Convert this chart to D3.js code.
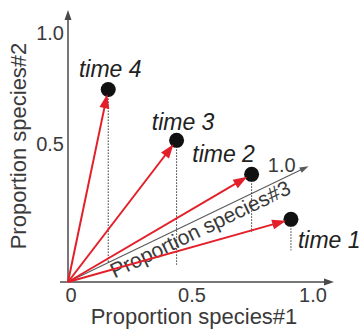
<!DOCTYPE html>
<html><head><meta charset="utf-8">
<script src="https://cdn.jsdelivr.net/npm/d3@7"></script>
<style>body{margin:0;background:#fff}svg{display:block}</style>
</head><body>
<svg id="c" width="362" height="331"></svg>
<script>
// ---- data ----
const times = ["time 1", "time 2", "time 3", "time 4"];
const species1 = [0.65, 0.33, 0.30, 0.00];
const species2 = [0.14, 0.26, 0.56, 0.78];
const species3 = [0.31, 0.49, 0.17, 0.19];
const xTicks = [0, 0.5, 1.0];
const yTicks = [0.5, 1.0];
const zTicks = [1.0];
const axisTitles = ["Proportion species#1", "Proportion species#2", "Proportion species#3"];

// ---- layout ----
const svg = d3.select("#c");
const FONT = "'Liberation Sans', Arial, sans-serif";
const O = [68, 282];
const x = d3.scaleLinear().domain([0, 1]).range([68, 310]);
const y = d3.scaleLinear().domain([0, 1]).range([255, 33]);
const z = d3.scaleLinear().domain([0, 1]).range([0, 235]);
const ang = Math.atan2(116, 241);
const cs = Math.cos(ang), sn = Math.sin(ang);
const h = v => y(0) - y(v);
const proj = (a, b, c) => [x(a) + z(c) * cs, O[1] - h(b) - z(c) * sn];
const floor = (a, c) => [x(a) + z(c) * cs, O[1] - z(c) * sn];

function arrowHead(g, tip, angle, len, half, fill) {
  const bx = tip[0] - len * Math.cos(angle), by = tip[1] - len * Math.sin(angle);
  const px = -Math.sin(angle) * half, py = Math.cos(angle) * half;
  g.append("path")
    .attr("d", `M${tip[0]},${tip[1]}L${bx + px},${by + py}L${bx - px},${by - py}Z`)
    .attr("fill", fill);
}

const axisCol = "#4a4a4a";
// x axis
svg.append("line").attr("x1", 60).attr("y1", O[1]).attr("x2", 326).attr("y2", O[1])
  .attr("stroke", axisCol).attr("stroke-width", 1.5);
arrowHead(svg, [334, O[1]], 0, 10, 3.5, axisCol);
// y axis
svg.append("line").attr("x1", O[0]).attr("y1", O[1]).attr("x2", O[0]).attr("y2", 18)
  .attr("stroke", axisCol).attr("stroke-width", 1.5);
arrowHead(svg, [O[0], 10], -Math.PI / 2, 10, 3.5, axisCol);
// species#3 diagonal axis
const zLen = 267;
const zEnd = [O[0] + zLen * cs, O[1] - zLen * sn];
svg.append("line").attr("x1", O[0]).attr("y1", O[1])
  .attr("x2", O[0] + (zLen - 6) * cs).attr("y2", O[1] - (zLen - 6) * sn)
  .attr("stroke", "#5a5a5a").attr("stroke-width", 1.1);
arrowHead(svg, zEnd, -ang, 9, 3, "#5a5a5a");

// tick labels
const tickCol = "#3a3a3a";
svg.selectAll(".xt").data(xTicks).enter().append("text")
  .attr("x", d => x(d) + 3).attr("y", 302).attr("text-anchor", "middle")
  .attr("font-family", FONT).attr("font-size", 20).attr("fill", tickCol)
  .text(d => d === 0 ? "0" : d.toFixed(1));
svg.selectAll(".yt").data(yTicks).enter().append("text")
  .attr("x", 64).attr("y", d => y(d) + 7).attr("text-anchor", "end")
  .attr("font-family", FONT).attr("font-size", 20).attr("fill", tickCol)
  .text(d => d.toFixed(1));
svg.selectAll(".zt").data(zTicks).enter().append("text")
  .attr("x", d => O[0] + z(d) * cs + 2).attr("y", d => O[1] - z(d) * sn - 8)
  .attr("text-anchor", "middle")
  .attr("font-family", FONT).attr("font-size", 20).attr("fill", tickCol)
  .text(d => d.toFixed(1));

// axis titles
svg.append("text").attr("x", 194).attr("y", 324).attr("text-anchor", "middle")
  .attr("font-family", FONT).attr("font-size", 22).attr("fill", tickCol).text(axisTitles[0]);
svg.append("text").attr("transform", "translate(26,146) rotate(-90)").attr("text-anchor", "middle")
  .attr("font-family", FONT).attr("font-size", 22).attr("fill", tickCol).text(axisTitles[1]);
{
  const along = 142, perp = 17;
  const cx = O[0] + along * cs + perp * sn, cy = O[1] - along * sn + perp * cs;
  svg.append("text")
    .attr("transform", `translate(${cx},${cy}) rotate(${-ang * 180 / Math.PI})`)
    .attr("text-anchor", "middle")
    .attr("font-family", FONT).attr("font-size", 21).attr("fill", tickCol).text(axisTitles[2]);
}

// points
const pts = times.map((t, i) => ({
  t, p: proj(species1[i], species2[i], species3[i]), f: floor(species1[i], species3[i])
}));

// dotted drop lines
svg.selectAll(".drop").data(pts).enter().append("line")
  .attr("x1", d => d.p[0]).attr("y1", d => d.p[1])
  .attr("x2", d => d.f[0]).attr("y2", d => d.f[1])
  .attr("stroke", "#333").attr("stroke-width", 1).attr("stroke-dasharray", "1.5,1.5");

// dots
svg.selectAll(".dot").data(pts).enter().append("circle")
  .attr("cx", d => d.p[0]).attr("cy", d => d.p[1]).attr("r", 7.5).attr("fill", "#111");

// red arrows
const red = "#e3202a";
pts.forEach(d => {
  const dx = d.p[0] - O[0], dy = d.p[1] - O[1];
  const L = Math.hypot(dx, dy), a = Math.atan2(dy, dx);
  const tipL = L - 5;
  const tip = [O[0] + tipL * Math.cos(a), O[1] + tipL * Math.sin(a)];
  svg.append("line").attr("x1", O[0]).attr("y1", O[1])
    .attr("x2", O[0] + (tipL - 10) * Math.cos(a)).attr("y2", O[1] + (tipL - 10) * Math.sin(a))
    .attr("stroke", red).attr("stroke-width", 2);
  arrowHead(svg, tip, a, 14, 5, red);
});

// time labels
const labelPos = {
  "time 1": [7, 29, "start"],
  "time 2": [-28, -12, "middle"],
  "time 3": [6.5, -10, "middle"],
  "time 4": [2, -12, "middle"]
};
svg.selectAll(".tl").data(pts).enter().append("text")
  .attr("x", d => d.p[0] + labelPos[d.t][0]).attr("y", d => d.p[1] + labelPos[d.t][1])
  .attr("text-anchor", d => labelPos[d.t][2])
  .attr("font-family", FONT).attr("font-size", 23).attr("font-style", "italic")
  .attr("fill", "#222").text(d => d.t);
</script>
</body></html>
